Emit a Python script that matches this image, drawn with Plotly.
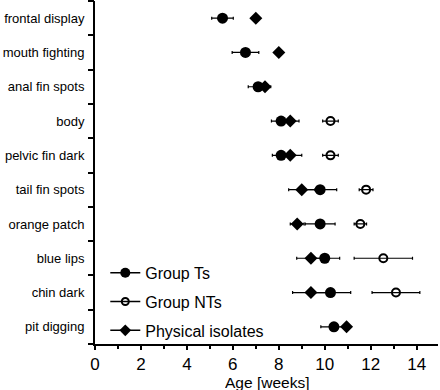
import plotly.graph_objects as go

categories = ["frontal display", "mouth fighting", "anal fin spots", "body",
              "pelvic fin dark", "tail fin spots", "orange patch", "blue lips",
              "chin dark", "pit digging"]

ts_mean = [5.55, 6.55, 7.1, 8.1, 8.1, 9.8, 9.8, 10.0, 10.25, 10.4]
ts_err = [0.47, 0.58, 0.43, 0.42, 0.38, 0.72, 0.65, 0.65, 0.88, 0.57]

nts_mean = [None, None, None, 10.25, 10.25, 11.8, 11.55, 12.55, 13.1, None]
nts_err = [None, None, None, 0.34, 0.34, 0.3, 0.27, 1.27, 1.04, None]

iso_mean = [7.0, 8.0, 7.4, 8.5, 8.5, 9.0, 8.8, 9.4, 9.4, 10.95]
iso_err = [0.0, 0.0, 0.25, 0.38, 0.5, 0.57, 0.3, 0.62, 0.8, 0.15]

series_names = ["Group Ts", "Group NTs", "Physical isolates"]
x_ticks = [0, 2, 4, 6, 8, 10, 12, 14]
x_minor = [1, 3, 5, 7, 9, 11, 13]
x_title = "Age [weeks]"

FONT = "Liberation Sans, Arial, Helvetica, sans-serif"

def eb(vals):
    return dict(type="data", array=vals, visible=True, color="black",
                thickness=1.2, width=1.5)

fig = go.Figure()

fig.add_trace(go.Scatter(
    x=iso_mean, y=categories, mode="markers", showlegend=False,
    error_x=eb(iso_err),
    marker=dict(symbol="diamond", size=10, color="black")))

fig.add_trace(go.Scatter(
    x=nts_mean, y=categories, mode="markers", showlegend=False,
    error_x=eb(nts_err),
    marker=dict(symbol="circle-open", size=8, color="black",
                line=dict(width=2, color="black"))))

fig.add_trace(go.Scatter(
    x=ts_mean, y=categories, mode="markers", showlegend=False,
    error_x=eb(ts_err),
    marker=dict(symbol="circle", size=11, color="black")))

# legend entries
leg_markers = [
    dict(symbol="circle", size=10, color="black"),
    dict(symbol="circle-open", size=7, color="black", line=dict(width=2, color="black")),
    dict(symbol="diamond", size=9, color="black"),
]
for name, mk in zip(series_names, leg_markers):
    fig.add_trace(go.Scatter(
        x=[None], y=[None], mode="lines+markers", name=name,
        line=dict(color="black", width=1.5), marker=mk, legendgroup=name))

# invisible trace to anchor the boundary-tick axis
fig.add_trace(go.Scatter(x=[None], y=[None], yaxis="y2", showlegend=False,
                         hoverinfo="skip"))

n = len(categories)
fig.update_layout(
    width=440, height=390,
    margin=dict(l=95, r=2, t=1, b=46),
    paper_bgcolor="white", plot_bgcolor="white",
    font=dict(family=FONT, color="black"),
    showlegend=True,
    legend=dict(x=0.03, y=0.257, xanchor="left", yanchor="top",
                font=dict(size=16, family=FONT), bgcolor="rgba(0,0,0,0)",
                tracegroupgap=5, itemwidth=30),
    xaxis=dict(range=[0, 14.93], tickmode="array", tickvals=x_ticks,
               ticks="outside", ticklen=4, tickwidth=1.5, tickcolor="black",
               showline=True, linecolor="black", linewidth=2,
               showgrid=False, zeroline=False, automargin=False,
               tickfont=dict(size=17, family=FONT),
               minor=dict(tickmode="array", tickvals=x_minor, ticks="outside",
                          ticklen=3, tickwidth=1.5, tickcolor="black",
                          showgrid=False)),
    yaxis=dict(type="category", categoryorder="array", categoryarray=categories,
               range=[n - 0.5, -0.5], ticks="", showline=True,
               linecolor="black", linewidth=2, showgrid=False, zeroline=False,
               automargin=False,
               tickfont=dict(size=13, family=FONT), ticklabelstandoff=6),
    yaxis2=dict(overlaying="y", side="left", anchor="x",
                range=[n - 0.5, -0.5], tickmode="array",
                tickvals=[i - 0.5 for i in range(n + 1)],
                ticks="outside", ticklen=6, tickwidth=1.5, tickcolor="black",
                showticklabels=False, showgrid=False, zeroline=False,
                showline=False, automargin=False),
    annotations=[dict(text=x_title, xref="paper", yref="paper", x=0.5,
                      y=-0.111, xanchor="center", yanchor="middle",
                      height=16, valign="middle",
                      showarrow=False, font=dict(size=15.5, family=FONT))],
)

fig.write_html("out.html",
               config={"displayModeBar": False},
               post_script="document.body.style.margin='0';"
                           "document.body.style.padding='0';")
